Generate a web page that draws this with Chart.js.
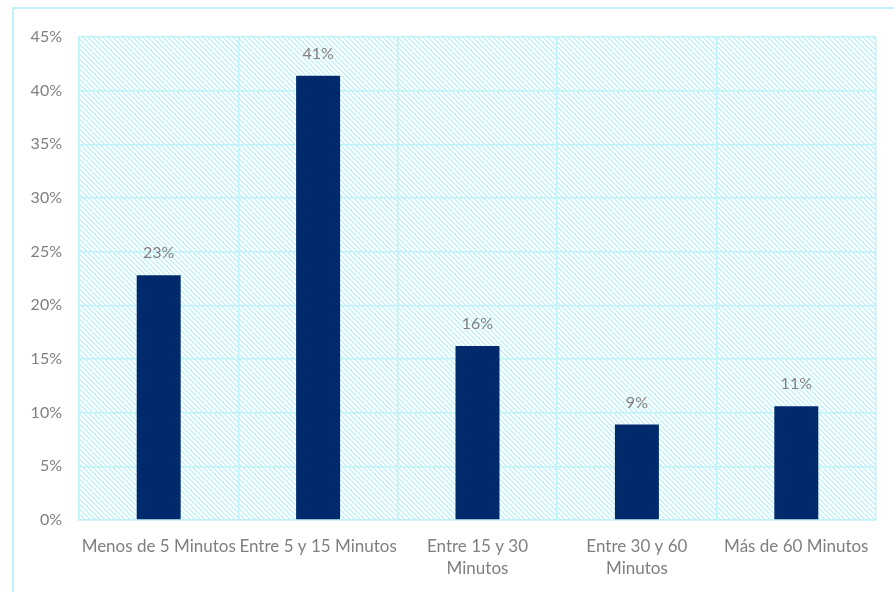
<!DOCTYPE html>
<html>
<head>
<meta charset="utf-8">
<script src="https://cdn.jsdelivr.net/npm/chart.js@4"></script>
<style>
  html, body { margin: 0; padding: 0; background: #ffffff; }
  #wrap { width: 894px; height: 592px; }
</style>
</head>
<body>
<div id="wrap"><canvas id="chart"></canvas></div>
<script>
// tiempo de espera por rango
const categories = [
    'Menos de 5 Minutos',
    'Entre 5 y 15 Minutos',
    ['Entre 15 y 30', 'Minutos'],
    ['Entre 30 y 60', 'Minutos'],
    'Más de 60 Minutos'
];
const shares = [22.8, 41.4, 16.2, 8.9, 10.6];
const yTicks = [0, 5, 10, 15, 20, 25, 30, 35, 40, 45];

const FONT = 'Lato, "Open Sans", sans-serif';
const GRID = '#bff2f8';
const TEXT = '#7f7f7f';

/**
 * Small diagonal hatch used behind the bars.
 */
function makeHatch(ctx) {
    const n = 5;
    const tile = document.createElement('canvas');
    tile.width = n;
    tile.height = n;
    const t = tile.getContext('2d');
    t.fillStyle = '#ffffff';
    t.fillRect(0, 0, n, n);
    t.fillStyle = '#c2f5fb';
    for (let y = 0; y < n; y++) {
        t.fillRect(y % n, y, 1, 1);
        t.fillRect((y + 1) % n, y, 1, 1);
    }
    return ctx.createPattern(tile, 'repeat');
}

const framePlugin = {
    id: 'frame',
    beforeDraw(chart) {
        const { ctx, chartArea: a } = chart;
        ctx.save();
        ctx.strokeStyle = GRID;
        ctx.lineWidth = 2;
        ctx.beginPath();
        ctx.moveTo(13, chart.height);
        ctx.lineTo(13, 8);
        ctx.lineTo(chart.width, 8);
        ctx.stroke();
        ctx.fillStyle = makeHatch(ctx);
        ctx.fillRect(a.left, a.top, a.right - a.left, a.bottom - a.top);
        ctx.restore();
    }
};

const valueLabels = {
    id: 'valueLabels',
    afterDatasetsDraw(chart) {
        const { ctx } = chart;
        const meta = chart.getDatasetMeta(0);
        ctx.save();
        ctx.font = '16px ' + FONT;
        ctx.fillStyle = TEXT;
        ctx.textAlign = 'center';
        ctx.textBaseline = 'middle';
        meta.data.forEach((bar, i) => {
            ctx.fillText(Math.round(shares[i]) + '%', bar.x, bar.y - 22);
        });
        ctx.restore();
    }
};

new Chart(document.getElementById('chart'), {
    type: 'bar',
    data: {
        labels: categories,
        datasets: [{
            data: shares,
            backgroundColor: '#002a6c',
            borderWidth: 0,
            categoryPercentage: 1,
            barPercentage: 0.276
        }]
    },
    options: {
        responsive: true,
        maintainAspectRatio: false,
        animation: false,
        layout: { padding: { top: 37, right: 18, left: 0, bottom: 0 } },
        plugins: {
            legend: { display: false },
            tooltip: { enabled: false }
        },
        scales: {
            x: {
                grid: { color: GRID, lineWidth: 1.5, drawTicks: false, offset: true },
                border: { color: GRID, width: 1.5 },
                ticks: {
                    color: TEXT,
                    font: { family: FONT, size: 17, lineHeight: 1.3 },
                    padding: 15,
                    maxRotation: 0,
                    autoSkip: false
                },
                afterFit(scale) { scale.height = 72; }
            },
            y: {
                min: 0,
                max: 45,
                afterBuildTicks(scale) { scale.ticks = yTicks.map(v => ({ value: v })); },
                grid: { color: GRID, lineWidth: 1.5, drawTicks: false },
                border: { color: GRID, width: 1.5 },
                ticks: {
                    color: TEXT,
                    font: { family: FONT, size: 16 },
                    padding: 17,
                    callback: v => v + '%'
                },
                afterFit(scale) { scale.width = 79; }
            }
        }
    },
    plugins: [framePlugin, valueLabels]
});
</script>
</body>
</html>
